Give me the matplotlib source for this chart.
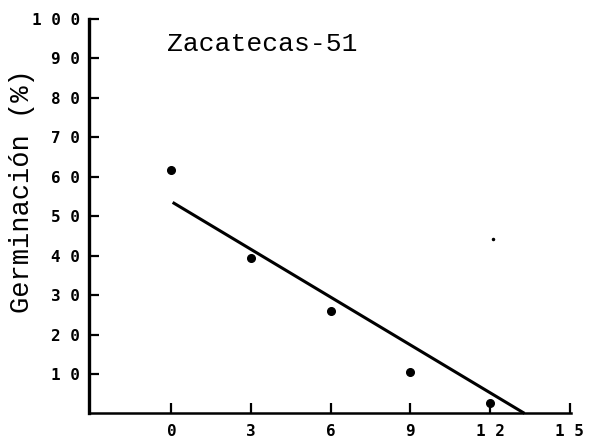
import matplotlib
matplotlib.use("Agg")
import matplotlib.pyplot as plt
import numpy as np

# Data
days = [0, 3, 6, 9, 12]
germination = [61.8, 39.4, 26.0, 10.6, 2.7]
speck_x = [12.1]
speck_y = [44.3]
line_x = [0.05, 13.3]
line_y = [53.5, 0.0]

xticks = [0, 3, 6, 9, 12, 15]
xticklabels = ["0", "3", "6", "9", "1 2", "1 5"]
yticks = [10, 20, 30, 40, 50, 60, 70, 80, 90, 100]
yticklabels = ["1 0", "2 0", "3 0", "4 0", "5 0", "6 0", "7 0", "8 0", "9 0", "1 0 0"]
title = "Zacatecas-51"
ylabel = "Germinación (%)"

W, H = 589, 446
fig = plt.figure(figsize=(W / 100, H / 100), dpi=100)
ax = fig.add_axes([89 / W, (H - 413.4) / H, (571 - 89) / W, (413.4 - 19) / H])

ax.plot(line_x, line_y, color="black", lw=2.2, solid_capstyle="butt", clip_on=False)
ax.plot(days, germination, "o", color="black", ms=5.5, clip_on=False)
ax.plot(speck_x, speck_y, "o", color="black", ms=1.5)

ax.set_xlim(-3.1, 15.05)
ax.set_ylim(0, 100)
for s in ["top", "right"]:
    ax.spines[s].set_visible(False)
ax.spines["left"].set_linewidth(2.4)
ax.spines["bottom"].set_linewidth(1.8)

tickfont = dict(family="DejaVu Sans Mono", size=11.5, weight="bold")
ax.set_xticks(xticks)
ax.set_xticklabels(xticklabels, **tickfont)
ax.set_yticks(yticks)
ax.set_yticklabels(yticklabels, **tickfont)
ax.tick_params(axis="both", direction="in", length=7.5, width=1.6, color="black")
ax.tick_params(axis="x", pad=7.5)
ax.tick_params(axis="y", pad=6.5)

fig.text(167 / W, 1 - 44 / H, title, family="Liberation Mono", fontsize=19,
         ha="left", va="center")
fig.text(22 / W, 1 - 191 / H, ylabel, family="Liberation Mono", fontsize=19.5,
         rotation=90, ha="center", va="center")

fig.savefig("out.png", dpi=100)
